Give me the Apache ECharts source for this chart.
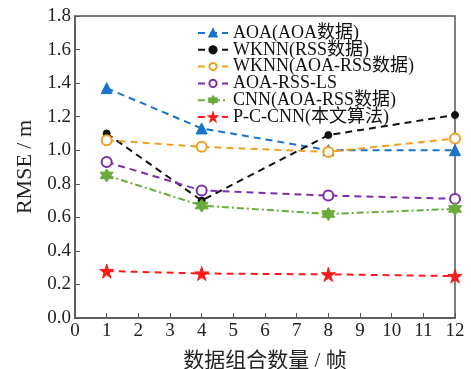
<!DOCTYPE html>
<html><head><meta charset="utf-8">
<script src="https://cdn.jsdelivr.net/npm/echarts@6/dist/echarts.min.js"></script>
<style>html,body{margin:0;padding:0;background:#fff}#c{width:471px;height:369px}</style>
</head><body><div id="c"></div>
<script>
const frames = [1, 4, 8, 12];
const seriesNames = ['AOA(AOA数据)', 'WKNN(RSS数据)', 'WKNN(AOA-RSS数据)', 'AOA-RSS-LS', 'CNN(AOA-RSS数据)', 'P-C-CNN(本文算法)'];
const aoa = [1.37, 1.13, 1.00, 1.00];
const wknnRss = [1.10, 0.70, 1.09, 1.21];
const wknnAoaRss = [1.06, 1.02, 0.99, 1.07];
const aoaRssLs = [0.93, 0.76, 0.73, 0.71];
const cnn = [0.85, 0.67, 0.62, 0.65];
const pccnn = [0.28, 0.265, 0.26, 0.25];
const xTicks = [0,1,2,3,4,5,6,7,8,9,10,11,12];
const yTicks = [0,0.2,0.4,0.6,0.8,1.0,1.2,1.4,1.6,1.8];

const FONT = "'Times New Roman','Liberation Serif','Noto Sans CJK SC',serif";
const star5 = 'path://M50,0 L61,35 L98,35 L68,57 L79,91 L50,70 L21,91 L32,57 L2,35 L39,35 Z';
const star6 = 'path://M50,0 L64.5,24.9 L93.3,25 L79,50 L93.3,75 L64.5,75.1 L50,100 L35.5,75.1 L6.7,75 L21,50 L6.7,25 L35.5,24.9 Z';

function mk(name, vals, color, symbol, size, opts) {
  opts = opts || {};
  return {
    name: name, type: 'line',
    data: frames.map((f, i) => [f, vals[i]]),
    symbol: symbol, symbolSize: size,
    showAllSymbol: true,
    lineStyle: {color: color, width: 2, type: opts.dash || [7, 5]},
    itemStyle: {color: opts.fill || color, borderColor: color, borderWidth: opts.bw || 1},
    z: opts.z || 2
  };
}

const chart = echarts.init(document.getElementById('c'));
chart.setOption({
  animation: false,
  backgroundColor: '#fff',
  grid: {left: 75, right: 16, top: 16, bottom: 51, containLabel: false, outerBoundsMode: 'none',
    show: true, borderColor: '#555', borderWidth: 1.5, backgroundColor: 'transparent'},
  legend: {
    orient: 'vertical', left: 192, top: 19, itemWidth: 30, itemHeight: 9, itemGap: -1.2,
    textStyle: {fontFamily: FONT, fontSize: 18, lineHeight: 16, color: '#111', padding: [0, 0, 0, 0]},
    data: seriesNames
  },
  xAxis: {
    type: 'value', min: 0, max: 12, interval: 1,
    name: '数据组合数量 / 帧', nameLocation: 'middle', nameGap: 33,
    nameTextStyle: {fontFamily: FONT, fontSize: 21, color: '#222'},
    axisLine: {lineStyle: {color: '#555', width: 1.5}},
    axisTick: {inside: true, length: 5, lineStyle: {color: '#555'}},
    axisLabel: {fontFamily: FONT, fontSize: 19, color: '#222', margin: 4,
      formatter: v => xTicks.includes(v) ? String(v) : ''},
    splitLine: {show: false}
  },
  yAxis: {
    type: 'value', min: 0, max: 1.8, interval: 0.2,
    name: 'RMSE / m', nameLocation: 'middle', nameGap: 39,
    nameTextStyle: {fontFamily: FONT, fontSize: 22, color: '#222'},
    axisLine: {lineStyle: {color: '#555', width: 1.5}},
    axisTick: {inside: true, length: 5, lineStyle: {color: '#555'}},
    axisLabel: {fontFamily: FONT, fontSize: 19, color: '#222', margin: 4,
      formatter: v => v.toFixed(1)},
    splitLine: {show: false}
  },
  series: [
    mk(seriesNames[0], aoa, '#1a73c8', 'triangle', 11),
    mk(seriesNames[1], wknnRss, '#111', 'circle', 7),
    mk(seriesNames[2], wknnAoaRss, '#f0a020', 'circle', 10, {fill: '#fff', bw: 2}),
    mk(seriesNames[3], aoaRssLs, '#7b2fa8', 'circle', 10, {fill: '#fff', bw: 2}),
    mk(seriesNames[4], cnn, '#6aaa3a', star6, 13, {dash: [7, 3, 2, 3]}),
    mk(seriesNames[5], pccnn, '#ff1a1a', star5, 14)
  ]
});
</script></body></html>
